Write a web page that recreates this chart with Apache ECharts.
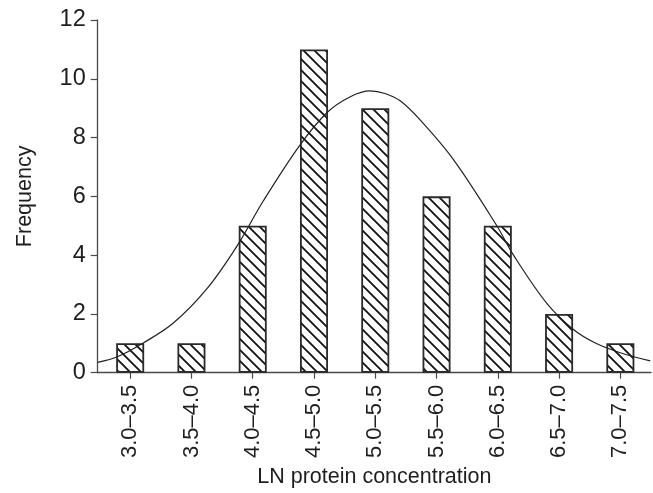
<!DOCTYPE html>
<html>
<head>
<meta charset="utf-8">
<script src="https://cdn.jsdelivr.net/npm/echarts@6/dist/echarts.min.js"></script>
<style>
  html, body { margin: 0; padding: 0; background: #fff; }
  #chart { width: 653px; height: 493px; }
</style>
</head>
<body>
<div id="chart"></div>
<script>
// Bins and counts.
const binLabels = ["3.0\u20133.5", "3.5\u20134.0", "4.0\u20134.5", "4.5\u20135.0", "5.0\u20135.5",
  "5.5\u20136.0", "6.0\u20136.5", "6.5\u20137.0", "7.0\u20137.5"];
const binMids = [3.25, 3.75, 4.25, 4.75, 5.25, 5.75, 6.25, 6.75, 7.25];
const frequency = [1, 1, 5, 11, 9, 6, 5, 2, 1];

// Fitted curve, points (x in LN units, y in counts).
const curveX = [2.985, 3.15, 3.36, 3.6, 3.875, 4.12, 4.337, 4.631, 4.859, 5.05, 5.208, 5.33,
  5.453, 5.616, 5.888, 6.242, 6.378, 6.65, 6.867, 7.05, 7.249, 7.494];
const curveY = [0.35, 0.55, 1.02, 1.68, 2.85, 4.3, 5.85, 7.72, 8.86, 9.4, 9.59, 9.5,
  9.25, 8.6, 7.25, 5.0, 4.0, 2.36, 1.47, 1.0, 0.68, 0.4];

const yTicks = [0, 2, 4, 6, 8, 10, 12];

const FONT = "'Liberation Sans', Arial, sans-serif";
const AXIS_COLOR = "#4a4a4a";
const TEXT_COLOR = "#1e1e1e";

// Diagonal "\" hatching for the bars.
let makeHatch = () => {
  const s = 11;
  const c = document.createElement("canvas");
  c.width = s;
  c.height = s;
  const ctx = c.getContext("2d");
  ctx.fillStyle = "#fff";
  ctx.fillRect(0, 0, s, s);
  ctx.strokeStyle = "#111";
  ctx.lineWidth = 1.8;
  ctx.beginPath();
  ctx.moveTo(-2, -2); ctx.lineTo(s + 2, s + 2);
  ctx.moveTo(-2, s - 2); ctx.lineTo(2, s + 2);
  ctx.moveTo(s - 2, -2); ctx.lineTo(s + 2, 2);
  ctx.stroke();
  return c;
};

const chart = echarts.init(document.getElementById("chart"));

chart.setOption({
  animation: false,
  backgroundColor: "#fff",
  grid: { left: 97.7, right: 2, top: 20, bottom: 116 },
  xAxis: {
    type: "value",
    min: 2.985,
    max: 7.5,
    name: "LN protein concentration",
    nameLocation: "middle",
    nameGap: 88,
    nameTextStyle: { fontFamily: FONT, fontSize: 21.5, color: TEXT_COLOR },
    axisLine: { show: true, lineStyle: { color: AXIS_COLOR, width: 1.3 } },
    axisTick: { show: true, customValues: binMids, length: 6, lineStyle: { color: AXIS_COLOR, width: 1.2 } },
    axisLabel: {
      customValues: binMids,
      rotate: 90,
      margin: 12,
      fontFamily: FONT,
      fontSize: 22,
      color: TEXT_COLOR,
      formatter: (v) => {
        let i = binMids.findIndex((m) => Math.abs(m - v) < 1e-6);
        return i >= 0 ? binLabels[i] : "";
      },
    },
    splitLine: { show: false },
  },
  yAxis: {
    type: "value",
    min: 0,
    max: 12,
    interval: 2,
    name: "Frequency",
    nameLocation: "middle",
    nameGap: 62,
    nameTextStyle: { fontFamily: FONT, fontSize: 21.5, color: TEXT_COLOR },
    axisLine: { show: true, lineStyle: { color: AXIS_COLOR, width: 1.3 } },
    axisTick: { show: true, length: 7, lineStyle: { color: AXIS_COLOR, width: 1.2 } },
    axisLabel: {
      margin: 12,
      fontFamily: FONT,
      fontSize: 23.5,
      color: TEXT_COLOR,
      customValues: yTicks,
    },
    splitLine: { show: false },
  },
  series: [
    {
      type: "bar",
      barWidth: 28,
      data: binMids.map((m, i) => [m, frequency[i]]),
      itemStyle: {
        color: { image: makeHatch(), repeat: "repeat" },
        borderColor: "#2a2a2a",
        borderWidth: 1.8,
      },
      z: 2,
    },
    {
      type: "line",
      smooth: 0.35,
      showSymbol: false,
      data: curveX.map((x, i) => [x, curveY[i]]),
      lineStyle: { color: "#222", width: 1.2 },
      z: 3,
    },
  ],
});
</script>
</body>
</html>
